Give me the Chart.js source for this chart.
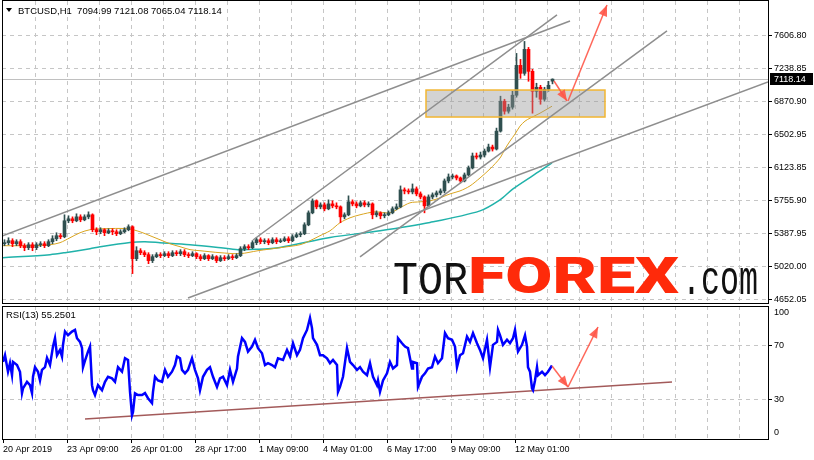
<!DOCTYPE html>
<html>
<head>
<meta charset="utf-8">
<title>BTCUSD H1</title>
<script src="https://cdn.jsdelivr.net/npm/chart.js@4.4.1/dist/chart.umd.min.js"></script>
<style>
  html, body { margin: 0; padding: 0; background: #fff; }
  #wrap { position: relative; width: 814px; height: 460px; overflow: hidden; }
  #price, #rsi { position: absolute; left: 0; display: block; }
  #price { top: 0; }
  #rsi { top: 304px; }
</style>
</head>
<body>
<div id="wrap">
  <canvas id="price" width="814" height="304"></canvas>
  <canvas id="rsi" width="814" height="156"></canvas>
</div>
<script>
// axis labels
const dateLabels = ['20 Apr 2019', '23 Apr 09:00', '26 Apr 01:00', '28 Apr 17:00', '1 May 09:00',
  '4 May 01:00', '6 May 17:00', '9 May 09:00', '12 May 01:00'];
const priceTicks = [4652.05, 5020.00, 5387.95, 5755.90, 6123.85, 6502.95, 6870.90, 7238.85, 7606.80];
const rsiTicks = [30, 70];
const header = 'BTCUSD,H1  7094.99 7121.08 7065.04 7118.14';
const lastPrice = 7118.14;
const rsiLast = '55.2501';

// 4-hour candles
const opens = [5276,5288,5310,5276,5299,5254,5232,5265,5232,5265,5276,5254,5299,5332,5366,5354,5533,5555,5533,5577,
  5544,5577,5600,5433,5410,5433,5399,5421,5410,5388,5410,5433,5466,5109,5198,5176,5154,5087,5131,5154,
  5143,5165,5143,5176,5165,5187,5154,5143,5165,5131,5109,5143,5109,5131,5087,5120,5109,5131,5120,5143,
  5221,5243,5232,5288,5321,5299,5310,5288,5321,5299,5310,5332,5310,5354,5377,5388,5488,5622,5756,5689,
  5711,5667,5722,5700,5689,5577,5600,5745,5722,5700,5734,5711,5722,5600,5622,5589,5600,5622,5667,5689,
  5879,5867,5856,5890,5834,5800,5700,5800,5823,5845,5867,5979,6023,6035,6012,5979,6046,6124,6258,6246,
  6269,6313,6358,6336,6536,6871,6759,6804,6938,7272,7183,7451,7205,6982,7027,6893,7005,7094.99];
const highs = [5321,5343,5332,5321,5321,5276,5288,5288,5288,5299,5299,5321,5366,5399,5388,5600,5589,5577,5611,5600,
  5600,5633,5611,5455,5455,5444,5444,5444,5433,5433,5455,5488,5477,5243,5221,5198,5176,5154,5176,5176,
  5187,5187,5198,5198,5210,5210,5176,5187,5176,5154,5165,5154,5154,5143,5143,5143,5154,5154,5165,5243,
  5265,5265,5310,5343,5343,5332,5332,5343,5343,5332,5354,5354,5377,5399,5410,5511,5644,5778,5767,5734,
  5734,5767,5756,5734,5700,5622,5812,5767,5745,5756,5756,5745,5734,5644,5633,5622,5644,5689,5722,5923,
  5901,5890,5945,5912,5856,5812,5823,5845,5867,5890,6001,6057,6057,6046,6023,6068,6146,6291,6291,6302,
  6336,6391,6380,6570,6927,6893,6837,6982,7406,7339,7540,7473,7228,7072,7049,7027,7094,7121.08];
const lows = [5254,5265,5243,5254,5232,5198,5210,5198,5210,5243,5232,5243,5276,5310,5332,5343,5511,5511,5522,5522,
  5533,5555,5410,5377,5388,5366,5388,5377,5366,5377,5399,5421,4942,5087,5154,5131,5053,5065,5120,5120,
  5131,5120,5131,5143,5143,5131,5120,5131,5109,5087,5098,5087,5098,5065,5076,5087,5098,5098,5109,5131,
  5198,5210,5221,5265,5276,5276,5265,5276,5276,5288,5299,5288,5299,5343,5354,5377,5477,5611,5667,5667,
  5644,5656,5678,5667,5511,5555,5589,5700,5678,5689,5689,5689,5555,5577,5555,5566,5589,5611,5656,5678,
  5834,5834,5834,5812,5778,5622,5689,5778,5800,5823,5845,5957,6001,5990,5957,5968,6035,6113,6224,6224,
  6246,6302,6313,6325,6525,6726,6737,6782,6916,7127,7161,7094,6737,6915,6837,6871,6982,7065.04];
const closes = [5288,5310,5276,5299,5254,5232,5265,5232,5265,5276,5254,5299,5332,5366,5354,5533,5555,5533,5577,5544,
  5577,5600,5433,5410,5433,5399,5421,5410,5388,5410,5433,5466,5109,5198,5176,5154,5087,5131,5154,5143,
  5165,5143,5176,5165,5187,5154,5143,5165,5131,5109,5143,5109,5131,5087,5120,5109,5131,5120,5143,5221,
  5243,5232,5288,5321,5299,5310,5288,5321,5299,5310,5332,5310,5354,5377,5388,5488,5622,5756,5689,5711,
  5667,5722,5700,5689,5577,5600,5745,5722,5700,5734,5711,5722,5600,5622,5589,5600,5622,5667,5689,5879,
  5867,5856,5890,5834,5800,5700,5800,5823,5845,5867,5979,6023,6035,6012,5979,6046,6124,6258,6246,6269,
  6313,6358,6336,6536,6871,6759,6804,6938,7272,7183,7451,7205,6982,7027,6893,7005,7049,7118.14];

// moving averages (hours from the first bar, price)
const maFastHours = [0,30,47,57,67,77,87,100,125,137,147,157,167,177,187,197,217,237,255,277,297,307,317,327,337,
  347,357,372,387,397,407,417,427,437,447,457,467,477,487,497,502,507,512,517,522,527,537,549];
const maFastValues = [5254,5254,5265,5288,5343,5399,5433,5444,5444,5410,5366,5321,5276,5243,5210,5198,5176,5165,
  5198,5232,5265,5310,5366,5421,5511,5566,5600,5633,5622,5678,5734,5745,5756,5789,5834,5867,5923,6012,6113,
  6235,6336,6425,6503,6592,6648,6681,6737,6815];
const maSlowHours = [0,47,62,87,97,127,142,157,187,215,235,252,277,327,377,427,477,497,510,537,549];
const maSlowValues = [5120,5154,5176,5221,5243,5291,5299,5288,5265,5235,5210,5213,5235,5347,5421,5514,5644,5767,
  5890,6090,6180];

// RSI(13)
const rsiHours = [0,2,5,7,9,10,14,17,19,20,24,27,29,30,32,35,37,39,42,44,47,50,52,54,57,59,60,62,65,69,72,74,77,
  79,80,82,85,87,89,90,92,95,99,102,105,109,112,115,119,122,125,127,129,130,132,135,139,142,145,149,150,152,155,
  159,162,165,169,172,174,177,179,182,185,189,192,195,197,200,204,207,210,214,217,220,224,227,230,234,235,239,
  242,245,249,252,255,259,262,265,269,272,275,280,284,287,290,294,297,300,304,307,309,310,314,317,320,324,327,
  330,334,335,337,340,344,347,350,354,357,360,364,367,370,374,375,377,380,384,387,390,394,395,399,402,405,407,
  409,410,414,415,419,422,425,429,432,435,439,442,445,449,452,454,457,460,464,467,470,474,477,480,484,487,490,
  494,495,497,500,504,507,510,512,515,519,522,524,525,527,529,530,532,534,535,539,542,545,549];
const rsiValues = [58,63,50.6,57,48,58,55.6,50.6,34.5,38,43,40.5,34.5,46.8,54,50.6,44,52,54,61,55.6,69.5,75.8,63,
  67,62,70.8,80.8,78,80.8,82,75.8,73,68.5,54,59,65.7,69.5,40.5,36.7,33,40.5,36.7,43,46.8,45.6,43,54,50.6,60.7,
  59.4,35.5,17.8,20.3,34.3,33,33,34.5,30.7,27,35.5,46.8,44,43,52,46.8,50.6,55.6,62,60.7,52,49.4,52,60.7,52,45.6,
  36.7,46.8,52,54,46.8,39.2,45.6,46.8,40.5,52,43,53,62,75.8,73,65.7,69.5,74.6,68.3,64.5,55.6,57,55.6,54,60.7,
  59.4,67,62,72,63,67,75.8,82,91,83.4,75.8,70.8,63,63,60.7,57,59.4,55.6,35.5,39.2,46.8,68.3,58,55.6,52,54,50.6,
  48,57,46.8,40.5,44,35.5,44,49.4,58,53,55.6,75.8,72,69.5,68.3,60.7,53,58,57,39.2,46.8,49.4,53,54,62,57,60.7,
  79.6,75.8,74.6,69.5,54,63,64.5,77,73,79.6,72,67,60.7,74.6,54,70.8,73,82,78,70.8,74.6,72,75.8,82,65.7,70.8,78,
  69.5,54,50.6,38,36.7,44,54,48,50.6,48,50.6,55.25];

// drawn objects: [hourFrom, valueFrom, hourTo, valueTo]
const trendLines = [[-1, 5363, 567, 7768], [250, 5318, 554, 7836], [357, 5128, 664, 7657], [185, 4669, 765, 7086]];
const priceArrows = [[551, 7097, 564, 6873], [565, 6873, 604, 7947]];
const rsiTrend = [82, 15.0, 669, 42.9];
const rsiArrows = [[549, 54.9, 565, 39.1], [565, 39.1, 595, 84.2]];
const zoneBox = [423, 6996, 602, 6694];

const uiFont = '"Liberation Sans", Arial, sans-serif';
const gridGray = '#c6c6c6';
const arrowRed = 'rgba(255,86,72,0.9)';
const bullColor = '#2f4f4f';
const bearColor = '#ff0000';

const candleHours = opens.map((_, k) => 4 * k + 1.5);
const gridHours = [];
for (let h = 32; h <= 736; h += 32) gridHours.push(h);

const candleColor = (i) => closes[i] >= opens[i] ? bullColor : bearColor;
const seg = (s) => [{x: s[0], y: s[1]}, {x: s[2], y: s[3]}];

function arrowHead(ctx, x1, y1, x2, y2, color) {
  const a = Math.atan2(y2 - y1, x2 - x1);
  const len = 11, w = 4.5;
  ctx.save();
  ctx.fillStyle = color;
  ctx.beginPath();
  ctx.moveTo(x2, y2);
  ctx.lineTo(x2 - len * Math.cos(a) + w * Math.sin(a), y2 - len * Math.sin(a) - w * Math.cos(a));
  ctx.lineTo(x2 - len * Math.cos(a) - w * Math.sin(a), y2 - len * Math.sin(a) + w * Math.cos(a));
  ctx.closePath();
  ctx.fill();
  ctx.restore();
}

function frame(chart, topOff) {
  const {ctx, chartArea: a} = chart;
  ctx.save();
  ctx.strokeStyle = '#000';
  ctx.lineWidth = 1;
  ctx.strokeRect(a.left + 0.5, a.top - topOff + 0.5, a.right - a.left, a.bottom - a.top + topOff);
  ctx.restore();
}

function fitText(ctx, text, font, color, x, base, width) {
  ctx.save();
  ctx.font = font;
  ctx.fillStyle = color;
  ctx.textBaseline = 'alphabetic';
  const w = ctx.measureText(text).width;
  ctx.translate(x, base);
  ctx.scale(width / w, 1);
  ctx.fillText(text, 0, 0);
  ctx.restore();
}

// no padding from half label heights, fixed axis width
const fixWidth = (w) => (s) => { s.width = w; s.paddingTop = 0; s.paddingBottom = 0; };
const fixHeight = (h) => (s) => { s.height = h; s.paddingLeft = 0; s.paddingRight = 0; };

const pricePlugin = {
  id: 'pricePlugin',
  beforeDatasetsDraw(chart) {
    const {ctx, chartArea: a, scales: {y}} = chart;
    const py = Math.round(y.getPixelForValue(lastPrice)) + 0.5;
    ctx.save();
    ctx.strokeStyle = '#c0c0c0';
    ctx.beginPath();
    ctx.moveTo(a.left, py);
    ctx.lineTo(a.right, py);
    ctx.stroke();
    ctx.restore();
  },
  afterDatasetDraw(chart, args) {
    if (chart.data.datasets[args.index].label !== 'bodies') return;
    const {ctx, scales: {x, y}} = chart;
    const x1 = x.getPixelForValue(zoneBox[0]), y1 = y.getPixelForValue(zoneBox[1]);
    const x2 = x.getPixelForValue(zoneBox[2]), y2 = y.getPixelForValue(zoneBox[3]);
    ctx.save();
    ctx.fillStyle = 'rgba(150,150,150,0.42)';
    ctx.fillRect(x1, y1, x2 - x1, y2 - y1);
    ctx.strokeStyle = '#f2b632';
    ctx.lineWidth = 1.5;
    ctx.strokeRect(x1, y1, x2 - x1, y2 - y1);
    ctx.restore();
  },
  afterDraw(chart) {
    const {ctx, chartArea: a, scales: {x, y}} = chart;
    frame(chart, 1);

    priceArrows.forEach(s => arrowHead(ctx, x.getPixelForValue(s[0]), y.getPixelForValue(s[1]),
      x.getPixelForValue(s[2]), y.getPixelForValue(s[3]), arrowRed));

    // header
    ctx.save();
    ctx.fillStyle = '#000';
    ctx.beginPath();
    ctx.moveTo(6, 8); ctx.lineTo(12, 8); ctx.lineTo(9, 12); ctx.closePath();
    ctx.fill();
    ctx.font = '9.5px ' + uiFont;
    ctx.textBaseline = 'alphabetic';
    ctx.fillText(header, 18, 14);

    // price tag
    const py = Math.round(y.getPixelForValue(lastPrice));
    ctx.fillRect(a.right + 2, py - 6, 43, 12);
    ctx.fillStyle = '#fff';
    ctx.font = '9px ' + uiFont;
    ctx.textBaseline = 'middle';
    ctx.fillText(lastPrice.toFixed(2), a.right + 6, py + 0.5);
    ctx.restore();

    // watermark
    fitText(ctx, 'TOR', '46px "Liberation Mono", "DejaVu Sans Mono", monospace', '#111', 393, 294, 75);
    fitText(ctx, 'FOREX', '900 50px Roboto, "Open Sans", sans-serif', '#ff2a0a', 468, 293, 211);
    fitText(ctx, '.com', '48px "Liberation Mono", "DejaVu Sans Mono", monospace', '#111', 682, 294, 76);
  }
};

const rsiPlugin = {
  id: 'rsiPlugin',
  afterDraw(chart) {
    const {ctx, chartArea: a, scales: {x, y}} = chart;
    frame(chart, 0);
    rsiArrows.forEach(s => arrowHead(ctx, x.getPixelForValue(s[0]), y.getPixelForValue(s[1]),
      x.getPixelForValue(s[2]), y.getPixelForValue(s[3]), arrowRed));
    ctx.save();
    ctx.fillStyle = '#000';
    ctx.font = '9.5px ' + uiFont;
    ctx.textBaseline = 'alphabetic';
    ctx.fillText('RSI(13) ' + rsiLast, 6, a.top + 12);
    ctx.font = '9px ' + uiFont;
    ctx.textBaseline = 'middle';
    ctx.fillText('100', a.right + 6, a.top + 7);
    ctx.fillText('0', a.right + 6, a.bottom - 6);
    ctx.restore();
  }
};

const xGrid = {
  color: (c) => c.tick && c.tick.value > 0 ? gridGray : 'rgba(0,0,0,0)',
  lineWidth: 1
};

// price panel
new Chart(document.getElementById('price'), {
  type: 'bar',
  data: {
    datasets: [
      {
        type: 'line', label: 'ma slow', order: 20,
        data: maSlowHours.map((h, i) => ({x: h, y: maSlowValues[i]})),
        borderColor: '#20b2aa', borderWidth: 1.5, pointRadius: 0, tension: 0.3
      },
      {
        type: 'line', label: 'ma fast', order: 19,
        data: maFastHours.map((h, i) => ({x: h, y: maFastValues[i]})),
        borderColor: '#daa520', borderWidth: 1, pointRadius: 0, tension: 0.3
      },
      {
        label: 'wicks', order: 18, grouped: false, barThickness: 1,
        data: candleHours.map((h, i) => ({x: h, y: [lows[i], highs[i]]})),
        backgroundColor: (c) => candleColor(c.dataIndex), borderWidth: 0
      },
      {
        label: 'bodies', order: 17, grouped: false, barThickness: 3, minBarLength: 1,
        data: candleHours.map((h, i) => ({x: h, y: [opens[i], closes[i]]})),
        backgroundColor: (c) => candleColor(c.dataIndex), borderWidth: 0
      },
      ...trendLines.map((s, i) => ({
        type: 'line', label: 'trend ' + i, order: 10, data: seg(s),
        borderColor: '#8e8e8e', borderWidth: 1.5, pointRadius: 0
      })),
      ...priceArrows.map((s, i) => ({
        type: 'line', label: 'arrow ' + i, order: 1, data: seg(s),
        borderColor: arrowRed, borderWidth: 1.5, pointRadius: 0
      }))
    ]
  },
  options: {
    responsive: false,
    animation: false,
    events: [],
    layout: {padding: {left: 2, top: 1, right: 0, bottom: 1}},
    plugins: {legend: {display: false}, tooltip: {enabled: false}},
    scales: {
      x: {
        type: 'linear', min: -1, max: 765, offset: false,
        afterBuildTicks: (s) => { s.ticks = gridHours.map(v => ({value: v})); },
        afterFit: fixHeight(0),
        ticks: {display: false},
        grid: {...xGrid, drawTicks: false, offset: false},
        border: {display: false, dash: [4, 4]}
      },
      y: {
        position: 'right', min: 4612.9, max: 7992.3,
        afterBuildTicks: (s) => { s.ticks = priceTicks.map(v => ({value: v})); },
        afterFit: fixWidth(46),
        ticks: {
          color: '#000', padding: 2, font: {family: uiFont, size: 9},
          callback: (v) => v.toFixed(2)
        },
        grid: {color: gridGray, tickColor: '#000', tickLength: 4},
        border: {display: false, dash: [4, 4]}
      }
    }
  },
  plugins: [pricePlugin]
});

// RSI panel
new Chart(document.getElementById('rsi'), {
  type: 'line',
  data: {
    datasets: [
      {
        label: 'rsi', order: 2,
        data: rsiHours.map((h, i) => ({x: h, y: rsiValues[i]})),
        borderColor: '#0000ff', borderWidth: 2.5, pointRadius: 0, tension: 0
      },
      {
        label: 'rsi trend', order: 3, data: seg(rsiTrend),
        borderColor: '#a35a5a', borderWidth: 1.5, pointRadius: 0
      },
      ...rsiArrows.map((s, i) => ({
        label: 'rsi arrow ' + i, order: 1, data: seg(s),
        borderColor: arrowRed, borderWidth: 1.5, pointRadius: 0
      }))
    ]
  },
  options: {
    responsive: false,
    animation: false,
    events: [],
    layout: {padding: {left: 2, top: 2, right: 0, bottom: 0}},
    plugins: {legend: {display: false}, tooltip: {enabled: false}},
    scales: {
      x: {
        type: 'linear', min: -1, max: 765, offset: false,
        afterBuildTicks: (s) => { s.ticks = [0, ...gridHours].map(v => ({value: v})); },
        afterFit: fixHeight(21),
        ticks: {
          color: '#000', padding: 1, align: 'start', autoSkip: false, maxRotation: 0,
          font: {family: uiFont, size: 9},
          callback: (v) => (v % 64 === 0 && v / 64 < dateLabels.length) ? dateLabels[v / 64] : ''
        },
        grid: {
          ...xGrid, tickLength: 4,
          tickColor: (c) => c.tick && c.tick.value % 64 === 0 && c.tick.value / 64 < dateLabels.length ? '#000' : 'rgba(0,0,0,0)'
        },
        border: {display: false, dash: [4, 4]}
      },
      y: {
        position: 'right', min: 0, max: 100,
        afterBuildTicks: (s) => { s.ticks = rsiTicks.map(v => ({value: v})); },
        afterFit: fixWidth(46),
        ticks: {color: '#000', padding: 2, font: {family: uiFont, size: 9}},
        grid: {color: gridGray, tickColor: '#000', tickLength: 4},
        border: {display: false, dash: [4, 4]}
      }
    }
  },
  plugins: [rsiPlugin]
});
</script>
</body>
</html>
